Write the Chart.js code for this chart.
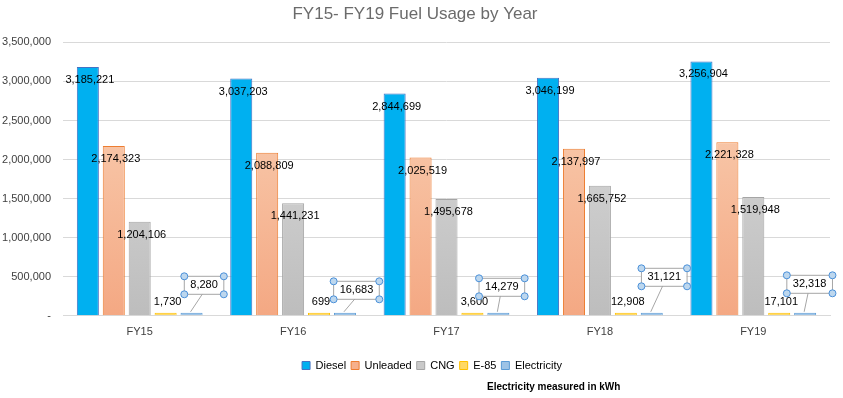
<!DOCTYPE html>
<html>
<head>
<meta charset="utf-8">
<script src="https://cdn.jsdelivr.net/npm/chart.js@4.4.1/dist/chart.umd.min.js"></script>
<style>
    html, body { margin: 0; padding: 0; background: #fff; }
    #wrap { width: 843px; height: 398px; }
</style>
</head>
<body>
<div id="wrap"><canvas id="fuelChart"></canvas></div>
<script>
// Dữ liệu biểu đồ
const categories = ['FY15', 'FY16', 'FY17', 'FY18', 'FY19'];
const seriesNames = ['Diesel', 'Unleaded', 'CNG', 'E-85', 'Electricity'];
const diesel = [3185221, 3037203, 2844699, 3046199, 3256904];
const unleaded = [2174323, 2088809, 2025519, 2137997, 2221328];
const cng = [1204106, 1441231, 1495678, 1665752, 1519948];
const e85 = [1730, 699, 3600, 12908, 17101];
const electricity = [8280, 16683, 14279, 31121, 32318];
const yMax = 3500000;
const yStep = 500000;

// Màu sắc
const solidColors = ['#00B0F0', '#F6B08C', '#C9C9C9', '#FFD966', '#9DC3E6'];
const borderColors = ['#4472C4', '#ED7D31', '#A5A5A5', '#FFC000', '#5B9BD5'];
const gradStops = {
    1: ['#F8C8AA', '#F4A883'],
    2: ['#D6D6D6', '#BDBDBD']
};
// Vị trí hộp chú thích điện (lệch so với đỉnh cột)
const calloutOffsets = [[12, -28], [11, -23], [3, -26], [12, -36], [4, -29]];

const FONT = "'Liberation Sans', Arial, sans-serif";

function fmt(v) {
    return v.toLocaleString('en-US');
}

function makeFill(i) {
    if (!gradStops[i]) return solidColors[i];
    return function (context) {
        const area = context.chart.chartArea;
        if (!area) return solidColors[i];
        const g = context.chart.ctx.createLinearGradient(0, area.top + 80, 0, area.bottom);
        g.addColorStop(0, gradStops[i][0]);
        g.addColorStop(1, gradStops[i][1]);
        return g;
    };
}

// Dời chú giải sang phải một chút
const legendShift = {
    id: 'legendShift',
    afterLayout(chart) {
        if (chart.legend) {
            chart.legend.left += 17;
            chart.legend.right += 17;
        }
    }
};

// Plugin vẽ nhãn dữ liệu
const labelPlugin = {
    id: 'valueLabels',
    afterDatasetsDraw(chart) {
        const ctx = chart.ctx;
        ctx.save();
        ctx.font = '11px ' + FONT;
        ctx.fillStyle = '#000';
        ctx.textAlign = 'center';
        ctx.textBaseline = 'middle';
        chart.data.datasets.forEach((ds, di) => {
            const meta = chart.getDatasetMeta(di);
            meta.data.forEach((bar, i) => {
                const text = fmt(ds.data[i]);
                if (di <= 2) {
                    ctx.fillText(text, bar.x + 2, bar.y + 13);
                } else if (di === 3) {
                    ctx.fillText(text, bar.x + 2, bar.base - 13);
                } else {
                    const cx = bar.x + calloutOffsets[i][0];
                    const cy = bar.y + calloutOffsets[i][1];
                    const w = ctx.measureText(text).width + 12;
                    const h = 18;
                    const x0 = cx - w / 2, y0 = cy - h / 2;
                    // đường dẫn
                    ctx.strokeStyle = '#A6A6A6';
                    ctx.lineWidth = 1;
                    ctx.beginPath();
                    ctx.moveTo(cx - 1, y0 + h);
                    ctx.lineTo(bar.x - 1, bar.y - 1);
                    ctx.stroke();
                    ctx.fillStyle = '#fff';
                    ctx.fillRect(x0, y0, w, h);
                    ctx.strokeRect(x0 + 0.5, y0 + 0.5, w, h);
                    ctx.fillStyle = '#000';
                    ctx.fillText(text, cx + 0.5, cy + 0.5);
                    // tay nắm
                    [[x0, y0], [x0 + w, y0], [x0, y0 + h], [x0 + w, y0 + h]].forEach(p => {
                        ctx.beginPath();
                        ctx.arc(p[0] + 0.5, p[1] + 0.5, 3.5, 0, Math.PI * 2);
                        ctx.fillStyle = '#BDD7EE';
                        ctx.fill();
                        ctx.strokeStyle = '#4A90D9';
                        ctx.stroke();
                    });
                    ctx.fillStyle = '#000';
                    ctx.strokeStyle = '#A6A6A6';
                }
            });
        });
        // ghi chú
        ctx.font = 'bold 10px ' + FONT;
        ctx.textAlign = 'left';
        ctx.fillStyle = '#000';
        ctx.fillText('Electricity measured in kWh', 487, 387);
        ctx.restore();
    }
};

function initChart() {
    const seriesData = [diesel, unleaded, cng, e85, electricity];
    const ctx = document.getElementById('fuelChart').getContext('2d');
    new Chart(ctx, {
        type: 'bar',
        data: {
            labels: categories,
            datasets: seriesData.map((d, i) => ({
                label: seriesNames[i],
                data: d,
                backgroundColor: makeFill(i),
                borderColor: borderColors[i],
                borderWidth: 1,
                minBarLength: i >= 3 ? 3 : 0,
                categoryPercentage: 0.845,
                barPercentage: 0.85
            }))
        },
        options: {
            responsive: true,
            maintainAspectRatio: false,
            animation: false,
            layout: {
                padding: { top: 0, right: 13, bottom: 17, left: 0 }
            },
            plugins: {
                title: {
                    display: true,
                    text: 'FY15- FY19 Fuel Usage by Year',
                    color: '#6B6B6B',
                    font: { size: 17, weight: 'normal', family: FONT },
                    padding: { top: 4, bottom: 18 }
                },
                legend: {
                    position: 'bottom',
                    labels: {
                        boxWidth: 8,
                        boxHeight: 8,
                        padding: 5,
                        color: '#404040',
                        font: { size: 11, family: FONT },
                        generateLabels: function (chart) {
                            return chart.data.datasets.map((ds, i) => ({
                                text: ds.label,
                                fillStyle: solidColors[i],
                                strokeStyle: borderColors[i],
                                lineWidth: 1,
                                datasetIndex: i
                            }));
                        }
                    }
                },
                tooltip: { enabled: false }
            },
            scales: {
                x: {
                    grid: { display: false },
                    border: { color: '#D9D9D9' },
                    afterFit: function (scale) { scale.height += 14; },
                    ticks: {
                        color: '#404040',
                        font: { size: 11, family: FONT },
                        padding: 2
                    }
                },
                y: {
                    min: 0,
                    max: yMax,
                    border: { display: false },
                    grid: { color: '#D9D9D9', drawTicks: false },
                    afterFit: function (scale) { scale.width = 63; },
                    ticks: {
                        stepSize: yStep,
                        color: '#404040',
                        padding: 12,
                        font: { size: 11, family: FONT },
                        callback: function (value) {
                            return value === 0 ? '-' : fmt(value);
                        }
                    }
                }
            }
        },
        plugins: [labelPlugin, legendShift]
    });
}

document.addEventListener('DOMContentLoaded', initChart);
</script>
</body>
</html>
